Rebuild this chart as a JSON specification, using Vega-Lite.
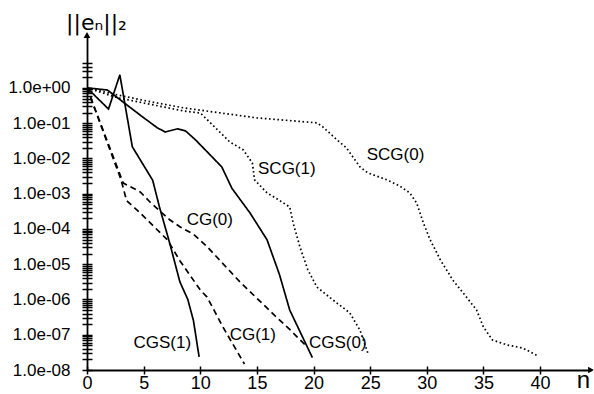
{
  "$schema": "https://vega.github.io/schema/vega-lite/v6.json",
  "width": 504,
  "height": 335,
  "autosize": "none",
  "padding": {"left": 87, "top": 35, "right": 3, "bottom": 24},
  "background": "white",
  "config": {
    "view": {"stroke": null},
    "font": "Liberation Sans",
    "axis": {"domainColor": "black", "tickColor": "black", "labelColor": "black", "titleColor": "black", "grid": false, "domainWidth": 1.8, "tickWidth": 1.5}
  },
  "datasets": {
    "curves": [
      {"series": "CGS(0)", "n": 0, "e": 1},
      {"series": "CGS(0)", "n": 1.8, "e": 0.871},
      {"series": "CGS(0)", "n": 3.3, "e": 0.372},
      {"series": "CGS(0)", "n": 4.9, "e": 0.151},
      {"series": "CGS(0)", "n": 6.2, "e": 0.0741},
      {"series": "CGS(0)", "n": 6.9, "e": 0.0562},
      {"series": "CGS(0)", "n": 8.0, "e": 0.0692},
      {"series": "CGS(0)", "n": 8.7, "e": 0.0603},
      {"series": "CGS(0)", "n": 9.6, "e": 0.0331},
      {"series": "CGS(0)", "n": 11.9, "e": 0.00575},
      {"series": "CGS(0)", "n": 12.8, "e": 0.00141},
      {"series": "CGS(0)", "n": 14.4, "e": 0.000282},
      {"series": "CGS(0)", "n": 15.9, "e": 0.000049},
      {"series": "CGS(0)", "n": 17.0, "e": 0.00000501},
      {"series": "CGS(0)", "n": 17.9, "e": 0.000000501},
      {"series": "CGS(0)", "n": 19.9, "e": 0.0000000224},

      {"series": "CGS(1)", "n": 0, "e": 1},
      {"series": "CGS(1)", "n": 1.9, "e": 0.251},
      {"series": "CGS(1)", "n": 2.9, "e": 2.34},
      {"series": "CGS(1)", "n": 4.0, "e": 0.0214},
      {"series": "CGS(1)", "n": 5.8, "e": 0.0024},
      {"series": "CGS(1)", "n": 6.4, "e": 0.000417},
      {"series": "CGS(1)", "n": 7.3, "e": 0.0000398},
      {"series": "CGS(1)", "n": 8.2, "e": 0.00000316},
      {"series": "CGS(1)", "n": 8.9, "e": 0.000001},
      {"series": "CGS(1)", "n": 9.4, "e": 0.000000251},
      {"series": "CGS(1)", "n": 9.9, "e": 0.0000000234},

      {"series": "CG(0)", "n": 0, "e": 1},
      {"series": "CG(0)", "n": 3.2, "e": 0.002},
      {"series": "CG(0)", "n": 4.7, "e": 0.00112},
      {"series": "CG(0)", "n": 5.6, "e": 0.000562},
      {"series": "CG(0)", "n": 7.3, "e": 0.000182},
      {"series": "CG(0)", "n": 8.2, "e": 0.000115},
      {"series": "CG(0)", "n": 9.4, "e": 0.0000708},
      {"series": "CG(0)", "n": 10.6, "e": 0.0000316},
      {"series": "CG(0)", "n": 13.5, "e": 0.00000316},
      {"series": "CG(0)", "n": 16.4, "e": 0.000000398},
      {"series": "CG(0)", "n": 17.9, "e": 0.000000141},
      {"series": "CG(0)", "n": 19.3, "e": 0.0000000501},

      {"series": "CG(1)", "n": 0, "e": 1},
      {"series": "CG(1)", "n": 3.0, "e": 0.00251},
      {"series": "CG(1)", "n": 3.5, "e": 0.000631},
      {"series": "CG(1)", "n": 4.7, "e": 0.000282},
      {"series": "CG(1)", "n": 5.3, "e": 0.000182},
      {"series": "CG(1)", "n": 7.1, "e": 0.000049},
      {"series": "CG(1)", "n": 8.2, "e": 0.0000126},
      {"series": "CG(1)", "n": 10.0, "e": 0.00000186},
      {"series": "CG(1)", "n": 10.6, "e": 0.00000117},
      {"series": "CG(1)", "n": 12.0, "e": 0.000000166},
      {"series": "CG(1)", "n": 13.9, "e": 0.0000000148},

      {"series": "SCG(1)", "n": 0, "e": 1},
      {"series": "SCG(1)", "n": 2.7, "e": 0.525},
      {"series": "SCG(1)", "n": 8.6, "e": 0.219},
      {"series": "SCG(1)", "n": 10.0, "e": 0.195},
      {"series": "SCG(1)", "n": 10.9, "e": 0.102},
      {"series": "SCG(1)", "n": 12.6, "e": 0.0295},
      {"series": "SCG(1)", "n": 13.8, "e": 0.0174},
      {"series": "SCG(1)", "n": 14.6, "e": 0.00741},
      {"series": "SCG(1)", "n": 14.8, "e": 0.00245},
      {"series": "SCG(1)", "n": 15.9, "e": 0.00105},
      {"series": "SCG(1)", "n": 16.8, "e": 0.000708},
      {"series": "SCG(1)", "n": 17.9, "e": 0.000417},
      {"series": "SCG(1)", "n": 18.2, "e": 0.000148},
      {"series": "SCG(1)", "n": 18.8, "e": 0.0000309},
      {"series": "SCG(1)", "n": 19.5, "e": 0.00000692},
      {"series": "SCG(1)", "n": 20.3, "e": 0.00000224},
      {"series": "SCG(1)", "n": 21.7, "e": 0.000000977},
      {"series": "SCG(1)", "n": 23.2, "e": 0.000000417},
      {"series": "SCG(1)", "n": 24.1, "e": 0.000000135},
      {"series": "SCG(1)", "n": 24.8, "e": 0.0000000302},

      {"series": "SCG(0)", "n": 0, "e": 1},
      {"series": "SCG(0)", "n": 2.7, "e": 0.631},
      {"series": "SCG(0)", "n": 5.7, "e": 0.398},
      {"series": "SCG(0)", "n": 8.6, "e": 0.269},
      {"series": "SCG(0)", "n": 15.0, "e": 0.141},
      {"series": "SCG(0)", "n": 20.3, "e": 0.102},
      {"series": "SCG(0)", "n": 20.8, "e": 0.0794},
      {"series": "SCG(0)", "n": 22.1, "e": 0.0331},
      {"series": "SCG(0)", "n": 22.9, "e": 0.02},
      {"series": "SCG(0)", "n": 24.1, "e": 0.00575},
      {"series": "SCG(0)", "n": 24.8, "e": 0.00389},
      {"series": "SCG(0)", "n": 26.5, "e": 0.00245},
      {"series": "SCG(0)", "n": 27.6, "e": 0.00166},
      {"series": "SCG(0)", "n": 28.5, "e": 0.00105},
      {"series": "SCG(0)", "n": 29.1, "e": 0.00055},
      {"series": "SCG(0)", "n": 29.7, "e": 0.000148},
      {"series": "SCG(0)", "n": 30.3, "e": 0.000049},
      {"series": "SCG(0)", "n": 31.2, "e": 0.0000132},
      {"series": "SCG(0)", "n": 32.3, "e": 0.00000355},
      {"series": "SCG(0)", "n": 33.5, "e": 0.00000117},
      {"series": "SCG(0)", "n": 34.4, "e": 0.000000501},
      {"series": "SCG(0)", "n": 35.0, "e": 0.000000166},
      {"series": "SCG(0)", "n": 35.8, "e": 0.0000000708},
      {"series": "SCG(0)", "n": 37.1, "e": 0.0000000513},
      {"series": "SCG(0)", "n": 38.5, "e": 0.0000000417},
      {"series": "SCG(0)", "n": 39.8, "e": 0.0000000251}
    ],
    "labels": [
      {"label": "SCG(1)", "n": 15.1, "e": 0.0049},
      {"label": "SCG(0)", "n": 24.7, "e": 0.0126},
      {"label": "CG(0)", "n": 8.8, "e": 0.00018},
      {"label": "CG(1)", "n": 12.6, "e": 0.000000098},
      {"label": "CGS(1)", "n": 4.1, "e": 0.000000058},
      {"label": "CGS(0)", "n": 19.6, "e": 0.000000058}
    ],
    "arrows": [
      {"dir": "up", "n": 0, "e": 31.6},
      {"dir": "right", "n": 44.5, "e": 0.00000001}
    ]
  },
  "layer": [
    {
      "data": {"name": "curves"},
      "mark": {"type": "line", "color": "black", "strokeWidth": 1.7, "clip": false},
      "encoding": {
        "x": {"field": "n", "type": "quantitative",
          "scale": {"domain": [0, 44.5], "nice": false, "zero": false},
          "axis": {"orient": "bottom", "values": [0, 5, 10, 15, 20, 25, 30, 35, 40], "tickSize": 4, "labelPadding": 0, "labelFontSize": 18, "labelFlush": false,
            "title": "n", "titleFontSize": 24, "titleFontWeight": "normal", "titleAnchor": "end", "titleAlign": "center", "titleBaseline": "middle", "titleX": 496, "titleY": 10}},
        "y": {"field": "e", "type": "quantitative",
          "scale": {"type": "log", "domain": [0.00000001, 31.6], "nice": false},
          "axis": {"orient": "left", "tickSize": 5, "labelPadding": 12, "labelFontSize": 17,
            "values": [1e-8,2e-8,3e-8,4e-8,5e-8,6e-8,7e-8,8e-8,9e-8,1e-7,2e-7,3e-7,4e-7,5e-7,6e-7,7e-7,8e-7,9e-7,1e-6,2e-6,3e-6,4e-6,5e-6,6e-6,7e-6,8e-6,9e-6,1e-5,2e-5,3e-5,4e-5,5e-5,6e-5,7e-5,8e-5,9e-5,1e-4,2e-4,3e-4,4e-4,5e-4,6e-4,7e-4,8e-4,9e-4,1e-3,2e-3,3e-3,4e-3,5e-3,6e-3,7e-3,8e-3,9e-3,1e-2,2e-2,3e-2,4e-2,5e-2,6e-2,7e-2,8e-2,9e-2,1e-1,2e-1,3e-1,4e-1,5e-1,6e-1,7e-1,8e-1,9e-1,1,2,3,4,5],
            "labelExpr": "abs(log(datum.value)/LN10 - round(log(datum.value)/LN10)) < 0.001 ? replace(replace(format(datum.value, '.1e'), 'e-', 'e-0'), 'e+', 'e+0') : ''",
            "title": "||eₙ||₂", "titleFont": "DejaVu Sans", "titleAngle": 0, "titleFontSize": 22, "titleFontWeight": "normal", "titleAlign": "center", "titleBaseline": "middle", "titleX": 9, "titleY": -13}},
        "detail": {"field": "series", "type": "nominal"},
        "strokeDash": {"field": "series", "type": "nominal", "legend": null,
          "scale": {"domain": ["CGS(0)", "CGS(1)", "CG(0)", "CG(1)", "SCG(0)", "SCG(1)"],
            "range": [[1, 0], [1, 0], [6, 4], [6, 4], [1.6, 2.6], [1.6, 2.6]]}}
      }
    },
    {
      "data": {"name": "labels"},
      "mark": {"type": "text", "align": "left", "baseline": "middle", "fontSize": 17, "color": "black"},
      "encoding": {
        "x": {"field": "n", "type": "quantitative",
          "scale": {"domain": [0, 44.5], "nice": false, "zero": false},
          "axis": {"orient": "bottom", "values": [0, 5, 10, 15, 20, 25, 30, 35, 40], "tickSize": -4, "labels": false, "domain": false, "title": null}},
        "y": {"field": "e", "type": "quantitative",
          "scale": {"type": "log", "domain": [0.00000001, 31.6], "nice": false},
          "axis": {"orient": "left", "tickSize": -5, "labels": false, "domain": false, "title": null,
            "values": [1e-8,2e-8,3e-8,4e-8,5e-8,6e-8,7e-8,8e-8,9e-8,1e-7,2e-7,3e-7,4e-7,5e-7,6e-7,7e-7,8e-7,9e-7,1e-6,2e-6,3e-6,4e-6,5e-6,6e-6,7e-6,8e-6,9e-6,1e-5,2e-5,3e-5,4e-5,5e-5,6e-5,7e-5,8e-5,9e-5,1e-4,2e-4,3e-4,4e-4,5e-4,6e-4,7e-4,8e-4,9e-4,1e-3,2e-3,3e-3,4e-3,5e-3,6e-3,7e-3,8e-3,9e-3,1e-2,2e-2,3e-2,4e-2,5e-2,6e-2,7e-2,8e-2,9e-2,1e-1,2e-1,3e-1,4e-1,5e-1,6e-1,7e-1,8e-1,9e-1,1,2,3,4,5]}},
        "text": {"field": "label", "type": "nominal"}
      }
    },
    {
      "data": {"name": "arrows"},
      "mark": {"type": "point", "filled": true, "color": "black", "opacity": 1, "size": 45, "clip": false},
      "encoding": {
        "x": {"field": "n", "type": "quantitative", "scale": {"domain": [0, 44.5], "nice": false, "zero": false}, "axis": null},
        "y": {"field": "e", "type": "quantitative", "scale": {"type": "log", "domain": [0.00000001, 31.6], "nice": false}, "axis": null},
        "shape": {"field": "dir", "type": "nominal", "legend": null,
          "scale": {"domain": ["up", "right"], "range": ["triangle-up", "triangle-right"]}}
      }
    }
  ],
  "resolve": {"axis": {"x": "independent", "y": "independent"}}
}
